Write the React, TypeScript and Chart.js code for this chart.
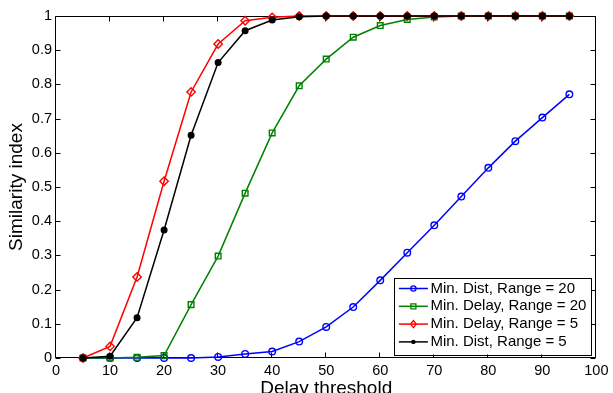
import React, { useEffect, useRef } from 'react';
import { Chart, registerables } from 'chart.js';

Chart.register(...registerables);

const FONT = '"Liberation Sans", Arial, Helvetica, sans-serif';

const delayThresholds = [5, 10, 15, 20, 25, 30, 35, 40, 45, 50, 55, 60, 65, 70, 75, 80, 85, 90, 95];
const minDistRange20 = [0, 0, 0, 0, 0, 0.003, 0.012, 0.019, 0.048, 0.091, 0.149, 0.227, 0.308, 0.388, 0.472, 0.556, 0.634, 0.703, 0.771];
const minDelayRange20 = [0, 0, 0.002, 0.007, 0.156, 0.298, 0.482, 0.658, 0.796, 0.874, 0.938, 0.972, 0.99, 0.997, 1, 1, 1, 1, 1];
const minDelayRange5 = [0, 0.034, 0.237, 0.517, 0.778, 0.918, 0.986, 0.996, 1, 1, 1, 1, 1, 1, 1, 1, 1, 1, 1];
const minDistRange5 = [0, 0.005, 0.118, 0.374, 0.651, 0.864, 0.957, 0.988, 0.998, 1, 1, 1, 1, 1, 1, 1, 1, 1, 1];

const seriesLabels = ['Min. Dist, Range = 20', 'Min. Delay, Range = 20', 'Min. Delay, Range = 5', 'Min. Dist, Range = 5'];
const seriesValues = [minDistRange20, minDelayRange20, minDelayRange5, minDistRange5];

const yTickLabels = ['0', '0.1', '0.2', '0.3', '0.4', '0.5', '0.6', '0.7', '0.8', '0.9', '1'];
const xTickLabels = ['0', '10', '20', '30', '40', '50', '60', '70', '80', '90', '100'];

const xAxisTitle = 'Delay threshold';
const yAxisTitle = 'Similarity index';

type Marker = 'circle' | 'square' | 'diamond' | 'dot';
const seriesStyles: { color: string; marker: Marker; pointStyle: string; radius: number; filled: boolean }[] = [
  { color: '#0000ff', marker: 'circle', pointStyle: 'circle', radius: 3.3, filled: false },
  { color: '#008000', marker: 'square', pointStyle: 'rect', radius: 4.0, filled: false },
  { color: '#ff0000', marker: 'diamond', pointStyle: 'rectRot', radius: 4.2, filled: false },
  { color: '#000000', marker: 'dot', pointStyle: 'circle', radius: 2.8, filled: true },
];

function drawLegendMarker(ctx: CanvasRenderingContext2D, marker: Marker, x: number, y: number, color: string) {
  ctx.save();
  ctx.strokeStyle = color;
  ctx.fillStyle = color;
  ctx.lineWidth = 1.3;
  ctx.beginPath();
  if (marker === 'circle') {
    ctx.arc(x, y, 2.6, 0, Math.PI * 2);
    ctx.stroke();
  } else if (marker === 'square') {
    ctx.rect(x - 2.5, y - 2.5, 5, 5);
    ctx.stroke();
  } else if (marker === 'diamond') {
    ctx.moveTo(x, y - 3.6);
    ctx.lineTo(x + 2.8, y);
    ctx.lineTo(x, y + 3.6);
    ctx.lineTo(x - 2.8, y);
    ctx.closePath();
    ctx.stroke();
  } else {
    ctx.arc(x, y, 2.2, 0, Math.PI * 2);
    ctx.fill();
  }
  ctx.restore();
}

const matlabFrame = {
  id: 'matlabFrame',
  beforeDatasetsDraw(chart: any) {
    const { ctx, chartArea } = chart;
    const xs = chart.scales.x;
    const ys = chart.scales.y;
    const L = Math.round(chartArea.left) - 0.5;
    const R = Math.round(chartArea.right) - 0.5;
    const T = Math.round(chartArea.top) + 0.5;
    const B = Math.round(chartArea.bottom) - 0.5;
    ctx.save();
    ctx.strokeStyle = '#000';
    ctx.lineWidth = 1;
    ctx.beginPath();
    ctx.rect(L, T, R - L, B - T);
    const tl = 5;
    xs.ticks.forEach((t: any) => {
      const px = Math.round(xs.getPixelForValue(t.value)) - 0.5;
      ctx.moveTo(px, B);
      ctx.lineTo(px, B - tl);
      ctx.moveTo(px, T);
      ctx.lineTo(px, T + tl);
    });
    ys.ticks.forEach((t: any) => {
      const py = Math.round(ys.getPixelForValue(t.value)) + 0.5;
      ctx.moveTo(L, py);
      ctx.lineTo(L + tl, py);
      ctx.moveTo(R, py);
      ctx.lineTo(R - tl, py);
    });
    ctx.stroke();
    ctx.restore();
  },
  afterDraw(chart: any) {
    const { ctx, chartArea } = chart;
    const right = chartArea.right - 5.5;
    const bottom = chartArea.bottom - 3.5;
    const left = right - 197;
    const top = bottom - 77;
    ctx.save();
    ctx.fillStyle = '#fff';
    ctx.fillRect(left, top, right - left, bottom - top);
    ctx.strokeStyle = '#000';
    ctx.lineWidth = 1;
    ctx.strokeRect(Math.round(left) + 0.5, Math.round(top) + 0.5, Math.round(right - left), Math.round(bottom - top));
    ctx.font = `15px ${FONT}`;
    ctx.textBaseline = 'middle';
    ctx.textAlign = 'left';
    seriesLabels.forEach((label, i) => {
      const y = top + 11 + i * 17.8;
      const st = seriesStyles[i];
      ctx.strokeStyle = st.color;
      ctx.lineWidth = 1.5;
      ctx.beginPath();
      ctx.moveTo(left + 5, y);
      ctx.lineTo(left + 34, y);
      ctx.stroke();
      drawLegendMarker(ctx, st.marker, left + 19.5, y, st.color);
      ctx.fillStyle = '#000';
      ctx.fillText(label, left + 36.5, y);
    });
    ctx.restore();
  },
};

export default function App() {
  const canvasRef = useRef<HTMLCanvasElement | null>(null);

  useEffect(() => {
    const canvas = canvasRef.current;
    if (!canvas) return;
    const datasets = seriesLabels.map((label, i) => {
      const st = seriesStyles[i];
      return {
        label,
        data: delayThresholds.map((x, j) => ({ x, y: seriesValues[i][j] })),
        borderColor: st.color,
        backgroundColor: st.filled ? st.color : 'rgba(0,0,0,0)',
        borderWidth: 1.5,
        pointStyle: st.pointStyle,
        pointRadius: st.radius,
        pointBorderWidth: 1.4,
        pointBorderColor: st.color,
        pointBackgroundColor: st.filled ? st.color : 'rgba(0,0,0,0)',
        tension: 0,
        fill: false,
        clip: false,
        order: seriesLabels.length - i,
      };
    });

    const chart = new Chart(canvas, {
      type: 'line',
      data: { datasets } as any,
      options: {
        animation: false,
        responsive: false,
        devicePixelRatio: 1,
        events: [],
        layout: { padding: { left: 0, right: 14, top: 16, bottom: 0 } },
        plugins: {
          legend: { display: false },
          tooltip: { enabled: false },
          title: { display: false },
        },
        scales: {
          x: {
            type: 'linear',
            min: 0,
            max: 100,
            ticks: {
              stepSize: 10,
              color: '#000',
              font: { family: FONT, size: 14.5 },
              padding: 4.5,
              maxRotation: 0,
              autoSkip: false,
              callback: (_v: any, i: number) => xTickLabels[i],
            },
            grid: { display: false, drawTicks: false },
            border: { display: false },
            title: {
              display: true,
              text: xAxisTitle,
              color: '#000',
              font: { family: FONT, size: 19 },
              padding: { top: 0, bottom: 5 },
            },
            afterFit: (s: any) => {
              s.height = 47;
            },
          },
          y: {
            type: 'linear',
            min: 0,
            max: 1,
            ticks: {
              stepSize: 0.1,
              color: '#000',
              font: { family: FONT, size: 14.5 },
              padding: 4,
              callback: (_v: any, i: number) => yTickLabels[i],
            },
            grid: { display: false, drawTicks: false },
            border: { display: false },
            title: {
              display: true,
              text: yAxisTitle,
              color: '#000',
              font: { family: FONT, size: 19 },
              padding: { top: 5.2, bottom: 0 },
            },
            afterFit: (s: any) => {
              s.width = 56;
            },
          },
        },
      } as any,
      plugins: [matlabFrame],
    });
    return () => chart.destroy();
  }, []);

  return (
    <div style={{ position: 'fixed', left: 0, top: 0, width: 613, height: 393, overflow: 'hidden', background: '#fff' }}>
      <canvas ref={canvasRef} width={613} height={405} style={{ display: 'block' }} />
    </div>
  );
}
